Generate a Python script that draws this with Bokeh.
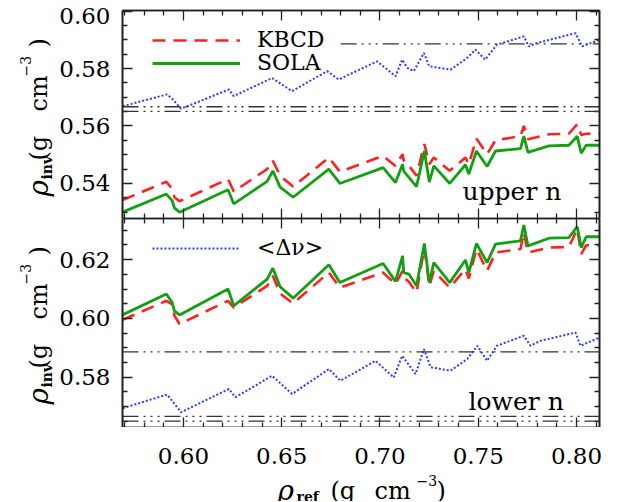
import numpy as np
from bokeh.plotting import figure
from bokeh.models import (Range1d, LinearAxis, FixedTicker, Span, Label,
                          Legend, LegendItem)
from bokeh.layouts import column, row
from bokeh.embed import file_html
from bokeh.resources import INLINE

# ---------------- data ----------------
x_curve = [0.5690, 0.5913, 0.5943, 0.5954, 0.5980, 0.6227, 0.6256, 0.6426, 0.6455, 0.6492,
           0.6558, 0.6740, 0.6796, 0.7016, 0.7079, 0.7115, 0.7121, 0.7147, 0.7186, 0.7226,
           0.7251, 0.7274, 0.7355, 0.7435, 0.7452, 0.7491, 0.7545, 0.7588, 0.7715, 0.7732,
           0.7753, 0.7860, 0.7961, 0.8004, 0.8024, 0.8049, 0.8117]

kbcd_upper = [0.5342, 0.5406, 0.5381, 0.5352, 0.5338, 0.5415, 0.5372, 0.5450, 0.5479, 0.5427,
              0.5389, 0.5490, 0.5441, 0.5496, 0.5461, 0.5502, 0.5480, 0.5462, 0.5427, 0.5537,
              0.5467, 0.5490, 0.5444, 0.5490, 0.5467, 0.5556, 0.5502, 0.5550, 0.5565, 0.5600,
              0.5554, 0.5571, 0.5573, 0.5606, 0.5569, 0.5573, 0.5573]
sola_upper = [0.5300, 0.5363, 0.5340, 0.5315, 0.5300, 0.5378, 0.5329, 0.5407, 0.5444, 0.5387,
              0.5352, 0.5450, 0.5400, 0.5455, 0.5403, 0.5467, 0.5443, 0.5421, 0.5389, 0.5513,
              0.5405, 0.5461, 0.5400, 0.5465, 0.5433, 0.5513, 0.5459, 0.5513, 0.5521, 0.5565,
              0.5508, 0.5531, 0.5533, 0.5564, 0.5505, 0.5533, 0.5533]
kbcd_lower = [0.5995, 0.6060, 0.6048, 0.6010, 0.5981, 0.6060, 0.6037, 0.6111, 0.6145, 0.6085,
              0.6051, 0.6156, 0.6105, 0.6156, 0.6117, 0.6162, 0.6140, 0.6125, 0.6088, 0.6241,
              0.6110, 0.6162, 0.6105, 0.6168, 0.6136, 0.6236, 0.6162, 0.6224, 0.6236, 0.6292,
              0.6224, 0.6241, 0.6243, 0.6304, 0.6219, 0.6249, 0.6249]
sola_lower = [0.6012, 0.6083, 0.6054, 0.6026, 0.6012, 0.6100, 0.6043, 0.6134, 0.6171, 0.6108,
              0.6069, 0.6183, 0.6122, 0.6187, 0.6126, 0.6213, 0.6156, 0.6151, 0.6111, 0.6255,
              0.6122, 0.6190, 0.6122, 0.6199, 0.6156, 0.6255, 0.6190, 0.6253, 0.6264, 0.6318,
              0.6247, 0.6273, 0.6275, 0.6312, 0.6241, 0.6278, 0.6278]

x_dnu_upper = [0.5692, 0.5917, 0.5950, 0.5988, 0.6231, 0.6256, 0.6451, 0.6553, 0.6731, 0.6790,
               0.6985, 0.7079, 0.7113, 0.7140, 0.7172, 0.7224, 0.7250, 0.7359, 0.7444, 0.7486,
               0.7535, 0.7595, 0.7732, 0.7757, 0.7800, 0.7995, 0.8029, 0.8117]
dnu_upper = [0.5669, 0.5710, 0.5690, 0.5660, 0.5727, 0.5704, 0.5767, 0.5721, 0.5791, 0.5762,
             0.5825, 0.5773, 0.5831, 0.5802, 0.5791, 0.5854, 0.5808, 0.5796, 0.5837, 0.5866,
             0.5831, 0.5883, 0.5912, 0.5877, 0.5889, 0.5923, 0.5877, 0.5900]
x_dnu_lower = [0.5692, 0.5917, 0.5988, 0.6231, 0.6265, 0.6451, 0.6553, 0.6740, 0.6799, 0.6977,
               0.7070, 0.7113, 0.7181, 0.7224, 0.7258, 0.7359, 0.7444, 0.7495, 0.7545, 0.7595,
               0.7732, 0.7766, 0.7817, 0.7995, 0.8020, 0.8117]
dnu_lower = [0.5695, 0.5741, 0.5681, 0.5760, 0.5732, 0.5805, 0.5743, 0.5828, 0.5788, 0.5856,
             0.5799, 0.5873, 0.5811, 0.5896, 0.5834, 0.5822, 0.5862, 0.5907, 0.5856, 0.5907,
             0.5941, 0.5907, 0.5924, 0.5952, 0.5907, 0.5935]

ref_levels = [0.5886, 0.5667, 0.5651]
upper_top_line_start = 0.68

X_RANGE = (0.569, 0.8117)
Y_UPPER = (0.5278, 0.6002)
Y_LOWER = (0.5629, 0.6340)

x_major = [0.60, 0.65, 0.70, 0.75, 0.80]
x_minor = [round(v, 3) for v in np.arange(0.57, 0.8101, 0.01) if abs(v * 20 - round(v * 20)) > 1e-6]
yu_major = [0.54, 0.56, 0.58, 0.60]
yu_minor = [round(v, 3) for v in np.arange(0.530, 0.6001, 0.005) if abs(v * 50 - round(v * 50)) > 1e-6]
yl_major = [0.58, 0.60, 0.62]
yl_minor = [round(v, 3) for v in np.arange(0.565, 0.6301, 0.005) if abs(v * 50 - round(v * 50)) > 1e-6]

# ---------------- geometry / styles ----------------
SW = 112            # width of the left strip holding y tick labels and titles
FW = 477            # frame width
FH_U, FH_L = 208, 209
TOP_B = 10
XT_H = 74           # strip below the lower panel: x tick labels + x title
FONT = "DejaVu Serif"
AX = "#222222"
RED = "#ff2020"
GREEN = "#12a012"
BLUE = "#2a3cff"
REFC = "#333333"
REF_DASH = "16 5 2 5 2 5 2 5"
TICK_FS = 23


def axis_common(ticker, color=AX):
    return dict(ticker=ticker, major_tick_in=10, major_tick_out=0, minor_tick_in=5, minor_tick_out=0,
                axis_line_color=color, axis_line_width=1.6,
                major_tick_line_color=color, major_tick_line_width=1.3,
                minor_tick_line_color=color, minor_tick_line_width=1.3, axis_label=None)


def add_tick_side(p, place, major, minor, color=AX):
    a1 = LinearAxis(major_label_standoff=0, axis_label_standoff=0,
                    **axis_common(FixedTicker(ticks=[], minor_ticks=major), color))
    a1.minor_tick_in = 10
    a2 = LinearAxis(major_label_standoff=0, axis_label_standoff=0,
                    **axis_common(FixedTicker(ticks=[], minor_ticks=minor), color))
    p.add_layout(a1, place)
    p.add_layout(a2, place)


def txt(p, s, x, y, size, angle=0.0, style="normal", align="left", baseline="alphabetic"):
    p.add_layout(Label(x=x, y=y, x_units="screen", y_units="screen", text=s, angle=angle,
                       text_font=FONT, text_font_size=f"{size}px", text_font_style=style,
                       text_align=align, text_baseline=baseline, text_color="black"))


def blank(w, h):
    f = figure(width=w, height=h, x_range=Range1d(0, 1), y_range=Range1d(0, 1),
               x_axis_location=None, y_axis_location=None, output_backend="svg",
               toolbar_location=None, min_border=0, outline_line_color=None,
               background_fill_color="white", border_fill_color="white")
    f.grid.visible = False
    return f


def make_panel(yr, frame_h, top_b, bot_b, fw=FW, right_b=8):
    p = figure(frame_width=fw, frame_height=frame_h,
               x_range=Range1d(*X_RANGE), y_range=Range1d(*yr),
               x_axis_location=None, y_axis_location=None,
               output_backend="svg", toolbar_location=None,
               min_border_left=10, min_border_right=right_b,
               min_border_top=top_b, min_border_bottom=bot_b,
               outline_line_color=None, background_fill_color="white",
               border_fill_color="white")
    p.grid.visible = False
    return p


def make_legend(p, renderer, label, y):
    lg = Legend(items=[LegendItem(label=label, renderers=[renderer])], location=(30, y),
                glyph_width=88, glyph_height=20, label_standoff=17, padding=0, margin=0,
                spacing=0, border_line_alpha=0, background_fill_alpha=0,
                label_text_font=FONT, label_text_font_size="22px", label_text_color="black")
    p.add_layout(lg)


# ---------------- upper panel ----------------
p1 = make_panel(Y_UPPER, FH_U, TOP_B, 0)
add_tick_side(p1, "left", yu_major, yu_minor)
add_tick_side(p1, "right", yu_major, yu_minor)
add_tick_side(p1, "above", x_major, x_minor)
add_tick_side(p1, "below", x_major, x_minor)

p1.segment(x0=[upper_top_line_start], x1=[X_RANGE[1]], y0=[ref_levels[0]], y1=[ref_levels[0]],
           line_color=REFC, line_width=1.3, line_dash=REF_DASH)
for lv in ref_levels[1:]:
    p1.add_layout(Span(location=lv, dimension="width", line_color=REFC, line_width=1.3,
                       line_dash=REF_DASH))

p1.line(x_dnu_upper, dnu_upper, line_color=BLUE, line_width=2.0, line_dash="2 2")
r_k1 = p1.line(x_curve, kbcd_upper, line_color=RED, line_width=2.6, line_dash="13 8")
r_s1 = p1.line(x_curve, sola_upper, line_color=GREEN, line_width=2.8)

make_legend(p1, r_k1, "KBCD", 166)
make_legend(p1, r_s1, "SOLA", 143)
txt(p1, "upper n", 340, 27, 25)

# ---------------- lower panel ----------------
p2 = make_panel(Y_LOWER, FH_L, 0, 0)
add_tick_side(p2, "left", yl_major, yl_minor)
add_tick_side(p2, "right", yl_major, yl_minor)
add_tick_side(p2, "above", x_major, x_minor)
add_tick_side(p2, "below", x_major, x_minor)

for lv in ref_levels:
    p2.add_layout(Span(location=lv, dimension="width", line_color=REFC, line_width=1.3,
                       line_dash=REF_DASH))

r_d2 = p2.line(x_dnu_lower, dnu_lower, line_color=BLUE, line_width=2.0, line_dash="2 2")
p2.line(x_curve, kbcd_lower, line_color=RED, line_width=2.6, line_dash="13 8")
p2.line(x_curve, sola_lower, line_color=GREEN, line_width=2.8)

make_legend(p2, r_d2, "<Δν>", 167)
txt(p2, "lower n", 346, 26, 25)

# ---------------- strip below: x tick labels and x title ----------------
xlab = make_panel(Y_LOWER, XT_H, 0, 0, fw=FW + 8, right_b=0)
add_tick_side(xlab, "left", [], [], None)
add_tick_side(xlab, "right", [], [], None)
for v in x_major:
    sx = (v - X_RANGE[0]) / (X_RANGE[1] - X_RANGE[0]) * FW
    txt(xlab, f"{v:.2f}", sx, XT_H - 28, TICK_FS, 0, "normal", "center", "middle")
TB = 11  # title baseline above the strip bottom
txt(xlab, "ρ", 155, TB, 28, 0, "italic")
txt(xlab, "ref", 174, TB - 6, 14, 0, "bold")
txt(xlab, "(g", 208, TB, 24)
txt(xlab, "cm", 252, TB, 24)
txt(xlab, "−3", 294, TB + 10, 14)
txt(xlab, ")", 314, TB, 24)

# ---------------- left strips: y tick labels and y titles ----------------
H_U = TOP_B + FH_U
H_L = FH_L + XT_H


def ytitle(f, dy):
    a = np.pi / 2
    txt(f, "ρ", 38, 22 + dy, 28, a, "italic")
    txt(f, "inv", 46, 39 + dy, 14, a, "bold")
    txt(f, "(g", 38, 58 + dy, 24, a)
    txt(f, "cm", 38, 107 + dy, 24, a)
    txt(f, "−3", 25, 142 + dy, 14, a)
    txt(f, ")", 38, 171 + dy, 24, a)


def yticklabels(f, majors, yr, frame_h, base):
    for v in majors:
        sy = base + (v - yr[0]) / (yr[1] - yr[0]) * frame_h
        sy = min(sy, base + frame_h - 5)
        txt(f, f"{v:.2f}", SW - 2, sy, TICK_FS, 0, "normal", "right", "middle")


ylab1 = blank(SW, H_U)
ytitle(ylab1, 0)
yticklabels(ylab1, yu_major, Y_UPPER, FH_U, 0)

ylab2 = blank(SW, H_L)
ytitle(ylab2, H_L - 208)
yticklabels(ylab2, yl_major, Y_LOWER, FH_L, XT_H)

layout = row(column(ylab1, ylab2, spacing=0), column(p1, p2, xlab, spacing=0), spacing=0)
open("out.html", "w").write(file_html(layout, INLINE))
